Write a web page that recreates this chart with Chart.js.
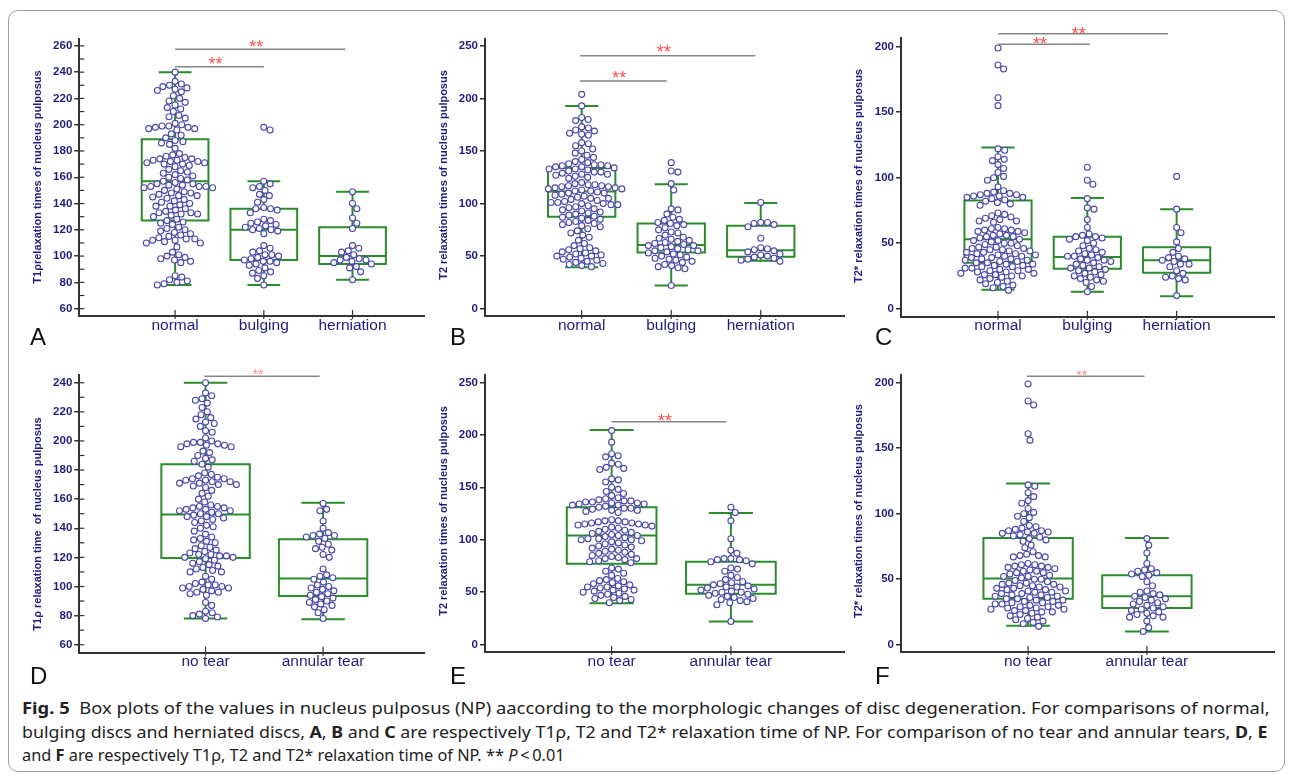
<!DOCTYPE html>
<html>
<head>
<meta charset="utf-8">
<script src="https://cdn.jsdelivr.net/npm/chart.js@4.4.1/dist/chart.umd.min.js"></script>
<style>
  body { margin: 0; background: #fff; width: 1292px; height: 780px; position: relative; overflow: hidden; font-family: "Liberation Sans", Arial, sans-serif; }
  .frame { position: absolute; left: 8px; top: 10px; width: 1277px; height: 762px; border: 1px solid #a0a0a0; border-radius: 10px; box-sizing: border-box; }
  canvas { position: absolute; }
  .ytitle { position: absolute; transform: translate(-50%, -50%) rotate(-90deg); white-space: nowrap; font-weight: bold; font-size: 11px; color: #1e1e80; }
  .letter { position: absolute; font-size: 24px; color: #111; line-height: 24px; }
  .cap { position: absolute; left: 22px; white-space: nowrap; font-family: "Liberation Sans Narrow", "Noto Sans", sans-serif; font-size: 16px; color: #222; line-height: 20px; transform-origin: 0 50%; }
</style>
</head>
<body>
<div class="frame"></div>

<canvas id="chartA" width="420" height="330" style="left:10px;top:20px"></canvas>
<canvas id="chartB" width="420" height="330" style="left:430px;top:20px"></canvas>
<canvas id="chartC" width="440" height="330" style="left:850px;top:20px"></canvas>
<canvas id="chartD" width="420" height="320" style="left:10px;top:355px"></canvas>
<canvas id="chartE" width="420" height="320" style="left:430px;top:355px"></canvas>
<canvas id="chartF" width="440" height="320" style="left:850px;top:355px"></canvas>

<div class="ytitle" style="left:37px;top:177px">T1ρrelaxation times of nucleus pulposus</div>
<div class="ytitle" style="left:443px;top:175px">T2 relaxation times of nucleus pulposus</div>
<div class="ytitle" style="left:858px;top:176px">T2* relaxation times of nucleus pulposus</div>
<div class="ytitle" style="left:37px;top:524px">T1ρ relaxation time&nbsp; of nucleus pulposus</div>
<div class="ytitle" style="left:443px;top:511px">T2 relaxation times of nucleus pulposus</div>
<div class="ytitle" style="left:858px;top:511px">T2* relaxation times of nucleus pulposus</div>

<div class="letter" style="left:30px;top:325px">A</div>
<div class="letter" style="left:450px;top:325px">B</div>
<div class="letter" style="left:875px;top:325px">C</div>
<div class="letter" style="left:30px;top:664px">D</div>
<div class="letter" style="left:450px;top:664px">E</div>
<div class="letter" style="left:875px;top:664px">F</div>

<div class="cap" id="cap1" style="top:698px"><b>Fig. 5</b>&nbsp; Box plots of the values in nucleus pulposus (NP) aaccording to the morphologic changes of disc degeneration. For comparisons of normal,</div>
<div class="cap" id="cap2" style="top:722px">bulging discs and herniated discs, <b>A</b>, <b>B</b> and <b>C</b> are respectively T1ρ, T2 and T2* relaxation time of NP. For comparison of no tear and annular tears, <b>D</b>, <b>E</b></div>
<div class="cap" id="cap3" style="top:745px">and <b>F</b> are respectively T1ρ, T2 and T2* relaxation time of NP. ** <i>P</i>&thinsp;&lt;&thinsp;0.01</div>

<script>
// ============ DATA ============

const groupsABC = ['normal', 'bulging', 'herniation'];
const groupsDEF = ['no tear', 'annular tear'];

// A: T1rho, by morphology
const t1rhoNormal = [240, 233, 231, 230, 229, 228, 227, 226, 225, 222, 220, 218, 217, 215, 213, 212, 210, 207, 206, 205, 201, 200, 199, 199, 198, 198, 197, 197, 196, 193, 192, 190, 188, 187, 186, 185, 182, 178, 177, 176, 175, 174, 174, 173, 173, 172, 172, 171, 171, 170, 170, 169, 168, 166, 165, 164, 163, 162, 161, 160, 159, 158, 157, 156, 155, 155, 154, 154, 153, 153, 153, 152, 152, 151, 150, 149, 148, 148, 147, 146, 146, 145, 144, 143, 142, 141, 140, 139, 138, 138, 136, 135, 134, 133, 133, 132, 132, 131, 130, 128, 127, 126, 125, 124, 122, 121, 120, 119, 118, 117, 116, 115, 114, 113, 113, 112, 112, 111, 110, 110, 107, 103, 101, 100, 99, 98, 97, 96, 95, 85, 84, 82, 81, 80, 79, 78];
const t1rhoBulging = [198, 196, 157, 155, 153, 152, 150, 147, 146, 143, 141, 137, 136, 136, 135, 133, 128, 127, 126, 125, 124, 123, 122, 121, 120, 120, 119, 117, 108, 106, 104, 103, 101, 101, 100, 99, 98, 97, 96, 96, 95, 94, 93, 91, 89, 88, 87, 85, 83, 78];
const t1rhoHerniation = [149, 140, 136, 129, 125, 121, 108, 106, 104, 103, 101, 99, 98, 97, 97, 96, 95, 94, 92, 91, 88, 82];

// B: T2, by morphology
const t2Normal = [204, 193, 182, 180, 179, 173, 172, 170, 169, 167, 166, 165, 158, 157, 155, 152, 150, 148, 146, 144, 142, 140, 139, 138, 137, 137, 136, 136, 135, 135, 134, 133, 133, 132, 131, 130, 130, 129, 128, 128, 127, 126, 125, 124, 120, 119, 118, 118, 117, 117, 116, 116, 115, 115, 114, 114, 113, 112, 112, 111, 110, 110, 109, 108, 107, 106, 105, 105, 104, 103, 102, 101, 101, 100, 100, 99, 99, 98, 97, 96, 95, 94, 93, 92, 91, 90, 89, 88, 87, 86, 85, 84, 83, 82, 81, 80, 79, 78, 76, 74, 72, 70, 68, 65, 62, 60, 58, 57, 56, 55, 54, 53, 52, 51, 50, 50, 49, 48, 47, 46, 45, 44, 43, 42, 41, 40];
const t2Bulging = [139, 131, 130, 119, 113, 95, 94, 90, 87, 85, 84, 82, 81, 80, 79, 77, 75, 73, 72, 70, 68, 67, 66, 65, 64, 63, 62, 61, 60, 60, 59, 58, 57, 56, 55, 55, 54, 53, 52, 51, 50, 49, 48, 47, 46, 45, 44, 42, 41, 40, 39, 38, 22];
const t2Herniation = [101, 82, 82, 81, 80, 78, 67, 58, 57, 56, 55, 54, 52, 51, 50, 49, 48, 47, 46, 45];

// C: T2*, by morphology
const t2starNormal = [199, 186, 183, 161, 155, 122, 121, 116, 114, 113, 110, 107, 104, 101, 100, 98, 93, 90, 89, 88, 88, 87, 87, 86, 86, 85, 85, 84, 83, 82, 81, 80, 79, 73, 72, 71, 70, 69, 68, 67, 67, 66, 62, 61, 61, 60, 60, 59, 59, 58, 57, 56, 56, 55, 55, 54, 53, 52, 52, 51, 50, 50, 49, 48, 47, 47, 46, 46, 45, 45, 44, 44, 43, 43, 42, 42, 41, 41, 40, 40, 39, 39, 38, 38, 37, 37, 36, 36, 35, 35, 34, 34, 33, 33, 32, 32, 31, 31, 30, 30, 29, 29, 28, 28, 27, 27, 26, 26, 25, 25, 24, 23, 22, 21, 20, 19, 18, 17, 16, 14];
const t2starBulging = [108, 98, 95, 84, 77, 76, 68, 62, 57, 56, 55, 55, 54, 53, 52, 50, 48, 46, 45, 44, 43, 42, 41, 40, 40, 39, 38, 37, 37, 36, 35, 34, 33, 32, 31, 31, 30, 29, 28, 27, 26, 25, 24, 23, 22, 21, 20, 17, 13];
const t2starHerniation = [101, 76, 62, 58, 51, 46, 43, 40, 39, 38, 37, 36, 34, 34, 32, 29, 27, 25, 24, 23, 22, 10];

// D: T1rho, by annular tear
const t1rhoNoTear = [240, 233, 231, 229, 228, 226, 223, 220, 218, 216, 215, 213, 212, 210, 207, 206, 202, 200, 199, 199, 198, 198, 197, 197, 196, 196, 193, 192, 190, 188, 187, 186, 184, 182, 178, 177, 176, 175, 174, 174, 173, 173, 172, 172, 171, 171, 170, 170, 169, 168, 166, 164, 162, 160, 158, 156, 155, 155, 154, 154, 153, 153, 152, 152, 151, 150, 150, 149, 148, 148, 147, 146, 145, 144, 142, 141, 140, 138, 136, 134, 133, 132, 131, 130, 128, 127, 126, 125, 124, 123, 122, 122, 121, 121, 120, 120, 119, 118, 117, 116, 115, 114, 113, 112, 111, 110, 110, 107, 105, 103, 102, 101, 101, 100, 100, 99, 99, 98, 97, 96, 96, 95, 94, 89, 87, 83, 82, 81, 80, 79, 78];
const t1rhoAnnular = [157, 153, 152, 145, 140, 137, 136, 135, 135, 134, 133, 131, 129, 127, 126, 125, 122, 120, 112, 108, 107, 106, 105, 103, 101, 100, 99, 98, 97, 96, 95, 94, 93, 92, 91, 90, 89, 88, 87, 86, 84, 82, 78];

// E: T2, by annular tear
const t2NoTear = [204, 193, 182, 180, 179, 173, 172, 169, 168, 167, 158, 157, 155, 150, 148, 146, 144, 142, 140, 139, 138, 137, 137, 136, 136, 135, 135, 134, 134, 133, 133, 132, 131, 130, 130, 129, 128, 128, 127, 126, 119, 118, 118, 117, 117, 116, 116, 115, 115, 114, 114, 113, 112, 111, 110, 109, 108, 107, 106, 105, 104, 104, 103, 102, 101, 101, 100, 100, 99, 98, 97, 96, 95, 94, 93, 92, 91, 90, 89, 88, 87, 86, 85, 84, 83, 82, 82, 81, 80, 79, 78, 73, 72, 70, 68, 66, 63, 62, 61, 60, 59, 58, 57, 56, 55, 55, 54, 53, 52, 52, 51, 50, 49, 48, 47, 46, 45, 44, 43, 42, 40];
const t2Annular = [131, 126, 118, 101, 90, 87, 82, 82, 81, 81, 80, 79, 77, 73, 72, 70, 66, 64, 62, 60, 59, 58, 57, 56, 55, 55, 54, 53, 52, 51, 50, 50, 49, 48, 47, 46, 45, 44, 43, 42, 41, 40, 38, 22];

// F: T2*, by annular tear
const t2starNoTear = [199, 186, 183, 161, 156, 122, 121, 116, 113, 110, 108, 104, 101, 100, 98, 97, 94, 91, 90, 89, 88, 87, 87, 86, 86, 85, 85, 84, 83, 82, 81, 80, 79, 76, 74, 71, 69, 68, 68, 67, 67, 62, 61, 61, 60, 60, 59, 59, 58, 57, 56, 56, 55, 55, 54, 53, 52, 52, 51, 50, 50, 49, 48, 47, 47, 46, 46, 45, 45, 44, 44, 43, 43, 42, 42, 41, 41, 40, 40, 39, 39, 38, 38, 37, 37, 36, 36, 35, 35, 34, 34, 33, 33, 32, 32, 31, 31, 30, 30, 29, 29, 28, 28, 27, 27, 26, 26, 25, 25, 24, 23, 22, 21, 20, 19, 18, 17, 16, 14];
const t2starAnnular = [81, 76, 70, 62, 58, 57, 56, 55, 54, 53, 52, 48, 45, 41, 40, 39, 38, 37, 36, 35, 34, 33, 32, 31, 30, 29, 28, 27, 26, 25, 24, 23, 22, 21, 21, 18, 13, 10];

// box stats: [lower whisker, q1, median, q3, upper whisker]
const boxA = [[78, 127, 157, 189, 240], [78, 97, 120, 136, 157], [82, 94, 100, 122, 149]];
const boxB = [[39.5, 87.5, 111.5, 134, 193], [22, 53.5, 60.5, 81, 118.5], [45.5, 49.5, 55.5, 79, 100.5]];
const boxC = [[14.5, 35, 53, 82.5, 123], [13, 30.5, 39.5, 55, 84.5], [9.5, 27.5, 37, 47, 76]];
const boxD = [[78, 119.5, 149.5, 184, 240], [77.5, 93.5, 105.5, 132.5, 157.5]];
const boxE = [[39.5, 77, 104, 131, 204.5], [22, 48.5, 57, 79, 125.5]];
const boxF = [[14.5, 35, 50.5, 81.5, 123], [10, 28, 37, 53, 81.5]];

// significance brackets: [from, to, y]
const sigA = [[1, 2.92, 257.5], [1, 2, 244.2]];
const sigB = [[0.98, 2.94, 240.8], [0.98, 1.95, 216.7]];
const sigC = [[1, 2.9, 209.9], [1, 2.03, 201.8]];
const sigD = [[0.99, 1.97, 244.4]];
const sigE = [[1, 1.96, 212.5]];
const sigF = [[0.99, 1.98, 204.9]];

// y tick labels
const ticksA = [60, 80, 100, 120, 140, 160, 180, 200, 220, 240, 260];
const ticksB = [0, 50, 100, 150, 200, 250];
const ticksC = [0, 50, 100, 150, 200];
const ticksD = [60, 80, 100, 120, 140, 160, 180, 200, 220, 240];
const ticksE = [0, 50, 100, 150, 200, 250];
const ticksF = [0, 50, 100, 150, 200];

// ============ STYLE ============

const NAVY = '#1e1e80';
const DOT = '#4848aa';
const GREEN = '#2a8c2a';
const AXIS = '#333';
const DOT_D = 6.8;   // swarm spacing in px
const BOX_HALF = 0.376;
const CAP_HALF = 0.185;

// ============ PLUGIN ============

const boxPlugin = {
  id: 'boxes',
  beforeDatasetsDraw(chart, args, opts) {
    const ctx = chart.ctx, xs = chart.scales.x, ys = chart.scales.y;
    ctx.save();
    ctx.strokeStyle = GREEN;
    ctx.lineWidth = 2;
    opts.boxes.forEach((b, i) => {
      const cx = xs.getPixelForValue(i + 1);
      const hw = xs.getPixelForValue(i + 1 + BOX_HALF) - cx;
      const cw = xs.getPixelForValue(i + 1 + CAP_HALF) - cx;
      const [lo, q1, med, q3, hi] = b.map(v => ys.getPixelForValue(v));
      ctx.beginPath();
      ctx.rect(cx - hw, q3, hw * 2, q1 - q3);
      ctx.moveTo(cx - hw, med); ctx.lineTo(cx + hw, med);
      ctx.moveTo(cx, q3); ctx.lineTo(cx, hi);
      ctx.moveTo(cx, q1); ctx.lineTo(cx, lo);
      ctx.moveTo(cx - cw, hi); ctx.lineTo(cx + cw, hi);
      ctx.moveTo(cx - cw, lo); ctx.lineTo(cx + cw, lo);
      ctx.stroke();
    });
    ctx.restore();
  },
  afterDraw(chart, args, opts) {
    const ctx = chart.ctx, xs = chart.scales.x, ys = chart.scales.y;
    const area = chart.chartArea;
    ctx.save();
    // minor y ticks
    ctx.strokeStyle = AXIS;
    ctx.lineWidth = 1.2;
    if (opts.minor) {
      for (let v = Math.ceil(ys.min / opts.minor) * opts.minor; v <= ys.max; v += opts.minor) {
        const y = ys.getPixelForValue(v);
        ctx.beginPath(); ctx.moveTo(area.left, y); ctx.lineTo(area.left + 5, y); ctx.stroke();
      }
    }
    // category ticks
    opts.boxes.forEach((b, i) => {
      const x = xs.getPixelForValue(i + 1);
      ctx.beginPath(); ctx.moveTo(x, area.bottom - 6); ctx.lineTo(x, area.bottom + 3); ctx.stroke();
    });
    // significance
    opts.sig.forEach(s => {
      const x1 = xs.getPixelForValue(s[0]), x2 = xs.getPixelForValue(s[1]);
      const y = ys.getPixelForValue(s[2]);
      ctx.strokeStyle = '#858585';
      ctx.lineWidth = 1.5;
      ctx.beginPath(); ctx.moveTo(x1, y); ctx.lineTo(x2, y); ctx.stroke();
      ctx.fillStyle = opts.starColor;
      ctx.font = opts.starSize + 'px "Liberation Sans", Arial, sans-serif';
      ctx.textAlign = 'center';
      ctx.textBaseline = 'alphabetic';
      ctx.fillText('**', (x1 + x2) / 2 - 4, y - opts.starOff + 0.56 * opts.starSize);
    });
    ctx.restore();
  }
};

// ============ CHARTS ============

function makePanel(p) {
  const chart = new Chart(document.getElementById(p.id), {
    type: 'scatter',
    data: {
      datasets: p.groups.map((vals, gi) => ({
        data: vals.map(v => ({ x: gi + 1, y: v })),
        pointRadius: 3,
        pointBorderWidth: 1.1,
        pointBackgroundColor: '#fff',
        pointBorderColor: DOT
      }))
    },
    options: {
      responsive: false,
      animation: false,
      events: [],
      layout: { padding: { top: p.padTop, right: p.padRight, left: 0, bottom: 0 } },
      plugins: {
        legend: { display: false },
        tooltip: { enabled: false },
        boxes: { boxes: p.boxes, sig: p.sig, minor: p.minor, starColor: p.starColor, starSize: p.starSize, starOff: p.starOff }
      },
      scales: {
        x: {
          type: 'linear',
          min: p.xMin, max: p.xMax,
          afterBuildTicks: s => { s.ticks = p.cats.map((c, i) => ({ value: i + 1 })); },
          afterFit: s => { s.height = p.xh; },
          ticks: {
            callback: v => p.cats[v - 1],
            color: NAVY,
            font: { family: '"Liberation Sans", Arial, sans-serif', size: 15.5 },
            padding: 0,
            autoSkip: false,
            maxRotation: 0
          },
          grid: { display: false, drawTicks: false },
          border: { display: true, color: AXIS, width: 2 }
        },
        y: {
          min: p.yMin, max: p.yMax,
          afterBuildTicks: s => { s.ticks = p.ticks.map(v => ({ value: v })); },
          afterFit: s => { s.width = p.yw; },
          ticks: {
            color: NAVY,
            font: { family: '"Liberation Sans", Arial, sans-serif', size: 11.5, weight: 'bold' },
            padding: 2
          },
          grid: { drawOnChartArea: false, drawTicks: true, tickLength: 5, color: AXIS, lineWidth: 1.5 },
          border: { display: true, color: AXIS, width: 2 }
        }
      }
    },
    plugins: [boxPlugin]
  });

  // beeswarm offsets from the drawn scales
  const xs = chart.scales.x, ys = chart.scales.y;
  const unit = xs.getPixelForValue(2) - xs.getPixelForValue(1);
  chart.data.datasets.forEach((ds, gi) => {
    const placed = [];
    ds.data = p.groups[gi].map(v => {
      const py = ys.getPixelForValue(v);
      const cands = [0];
      placed.forEach(q => {
        const dy = Math.abs(q.y - py);
        if (dy < DOT_D) {
          const dx = Math.sqrt(DOT_D * DOT_D - dy * dy);
          cands.push(q.x + dx, q.x - dx);
        }
      });
      cands.sort((a, b) => Math.abs(a) - Math.abs(b));
      const px = cands.find(c => placed.every(q => (q.x - c) ** 2 + (q.y - py) ** 2 >= DOT_D * DOT_D - 0.01));
      placed.push({ x: px, y: py });
      return { x: gi + 1 + px / unit, y: v };
    });
  });
  chart.update('none');
  return chart;
}

const top3 = { padTop: 19.3, xh: 34, starColor: '#ff4d4d', starSize: 18 };
const bot3 = { padTop: 20, xh: 22.3 };

makePanel(Object.assign({}, top3, {
  id: 'chartA', cats: groupsABC, groups: [t1rhoNormal, t1rhoBulging, t1rhoHerniation],
  boxes: boxA, sig: sigA, ticks: ticksA, minor: 10,
  yMin: 54.4, yMax: 265, xMin: -0.08, xMax: 3.816, yw: 69.3, padRight: 2, starOff: 6.6
}));
makePanel(Object.assign({}, top3, {
  id: 'chartB', cats: groupsABC, groups: [t2Normal, t2Bulging, t2Herniation],
  boxes: boxB, sig: sigB, ticks: ticksB, minor: 0,
  yMin: -7, yMax: 256.4, xMin: -0.08, xMax: 3.94, yw: 55, padRight: 5, starOff: 7.4
}));
makePanel(Object.assign({}, top3, {
  id: 'chartC', cats: groupsABC, groups: [t2starNormal, t2starBulging, t2starHerniation],
  boxes: boxC, sig: sigC, ticks: ticksC, minor: 0, padTop: 18.3, xh: 33.3,
  yMin: -6.1, yMax: 206.4, xMin: -0.086, xMax: 4.09, yw: 51, padRight: 16, starOff: 4
}));
makePanel(Object.assign({}, bot3, {
  id: 'chartD', cats: groupsDEF, groups: [t1rhoNoTear, t1rhoAnnular],
  boxes: boxD, sig: sigD, ticks: ticksD, minor: 10, starColor: '#ff8a8a', starSize: 14,
  yMin: 54.5, yMax: 245.3, xMin: -0.074, xMax: 2.866, yw: 69.3, padRight: 2, starOff: 5.6
}));
makePanel(Object.assign({}, bot3, {
  id: 'chartE', cats: groupsDEF, groups: [t2NoTear, t2Annular],
  boxes: boxE, sig: sigE, ticks: ticksE, minor: 0, starColor: '#ff4d4d', starSize: 18, xh: 23,
  yMin: -7, yMax: 257, xMin: -0.062, xMax: 2.956, yw: 55, padRight: 5, starOff: 5
}));
makePanel(Object.assign({}, bot3, {
  id: 'chartF', cats: groupsDEF, groups: [t2starNoTear, t2starAnnular],
  boxes: boxF, sig: sigF, ticks: ticksF, minor: 0, starColor: '#ff8a8a', starSize: 14, xh: 23,
  yMin: -5.6, yMax: 205.9, xMin: -0.07, xMax: 3.07, yw: 51, padRight: 16, starOff: 4.3
}));

// ============ CAPTION ============

[['cap1', 1248], ['cap2', 1246], ['cap3', 543]].forEach(([id, w]) => {
  const el = document.getElementById(id);
  el.style.transform = 'scaleX(' + (w / el.scrollWidth) + ')';
});
</script>
</body>
</html>
